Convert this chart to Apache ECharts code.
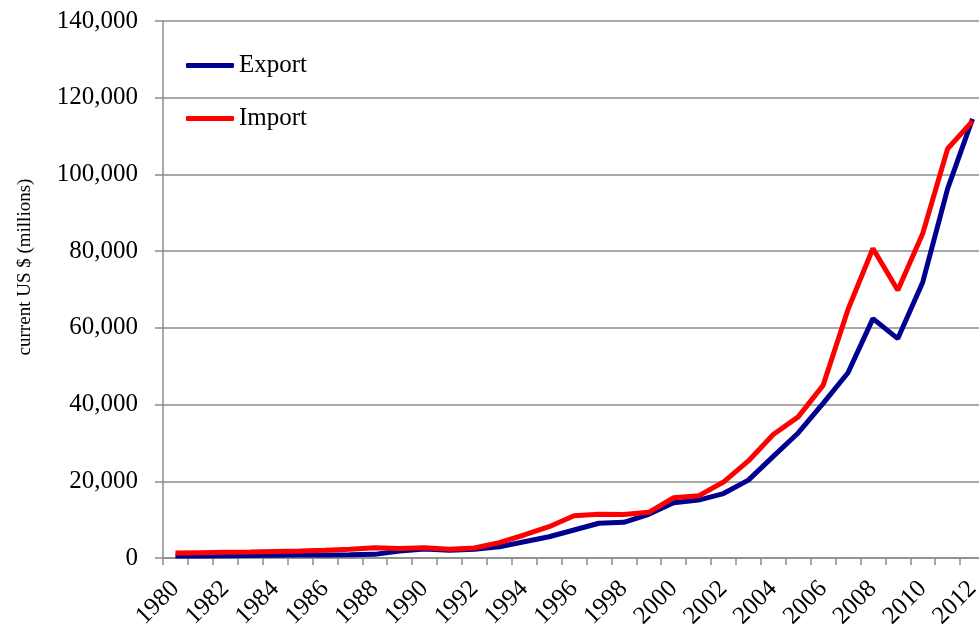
<!DOCTYPE html>
<html>
<head>
<meta charset="utf-8">
<script src="https://cdn.jsdelivr.net/npm/echarts@6/dist/echarts.min.js"></script>
<style>html,body{margin:0;padding:0;background:#fff}#c{width:979px;height:629px}</style>
</head>
<body>
<div id="c"></div>
<script>
const years = ['1980','1981','1982','1983','1984','1985','1986','1987','1988','1989','1990','1991','1992','1993','1994','1995','1996','1997','1998','1999','2000','2001','2002','2003','2004','2005','2006','2007','2008','2009','2010','2011','2012'];
const exportValues = [500,550,600,650,700,750,800,850,950,1800,2350,2050,2300,2900,4250,5550,7300,9050,9300,11400,14400,15100,16800,20300,26500,32600,40300,48300,62400,57200,71900,96300,114500];
const importValues = [1300,1400,1500,1550,1700,1850,2050,2300,2650,2450,2650,2250,2600,4000,6000,8150,11000,11400,11350,11900,15700,16200,19800,25300,32200,36800,45000,64800,80700,69800,84600,106700,113900];
const yTicks = {min:0, max:140000, interval:20000};
const serif = '"Liberation Serif","DejaVu Serif",serif';

const chart = echarts.init(document.getElementById('c'), null, {renderer:'canvas'});
chart.setOption({
  animation:false,
  backgroundColor:'#fff',
  grid:{left:163, top:21, width:822, height:537, containLabel:false, outerBoundsMode:'none'},
  legend:{
    orient:'vertical', left:186, top:53, padding:0, itemWidth:48, itemHeight:5, itemGap:28,
    icon:'roundRect',
    textStyle:{fontFamily:serif, fontSize:25, color:'#000'},
    data:['Export','Import']
  },
  graphic:[{
    type:'text', x:25, y:267, rotation:Math.PI/2,
    style:{text:'current US $ (millions)', font:'19px '+serif, fill:'#000', align:'center', verticalAlign:'middle'}
  }],
  xAxis:{
    type:'category', data:years, boundaryGap:true,
    axisLine:{lineStyle:{color:'#8c8c8c', width:1.5}},
    axisTick:{show:true, interval:0, length:7, lineStyle:{color:'#8c8c8c', width:1.5}},
    axisLabel:{interval:1, rotate:45, margin:27, fontFamily:serif, fontSize:25, color:'#000'},
    splitLine:{show:false}
  },
  yAxis:{
    type:'value', min:yTicks.min, max:yTicks.max, interval:yTicks.interval,
    axisLine:{show:true, lineStyle:{color:'#8c8c8c', width:1.5}},
    axisTick:{show:true, length:8, lineStyle:{color:'#8c8c8c', width:1.5}},
    axisLabel:{margin:25, fontFamily:serif, fontSize:25, color:'#000',
      formatter:v=>v.toLocaleString('en-US')},
    splitLine:{show:true, lineStyle:{color:'#8c8c8c', width:1.5}}
  },
  series:[
    {name:'Export', type:'line', data:exportValues, showSymbol:false, symbol:'none',
      lineStyle:{color:'#000090', width:5}, itemStyle:{color:'#000090'}},
    {name:'Import', type:'line', data:importValues, showSymbol:false, symbol:'none',
      lineStyle:{color:'#ff0000', width:5}, itemStyle:{color:'#ff0000'}}
  ]
});
</script>
</body>
</html>
